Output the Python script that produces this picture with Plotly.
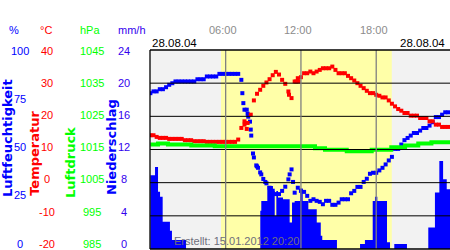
import plotly.graph_objects as go

# ---------------- data ----------------
hours = [i * 0.25 for i in range(96)]  # 15-minute samples, 28.08.04

humidity = [78.3, 79.2, 79.2, 80.3, 80.3, 81.3, 82.5, 83.3, 84.2, 84.2,
            84.2, 84.2, 84.2, 84.2, 84.2, 85.3, 85.3, 85.3, 86.7, 86.7,
            86.7, 86.7, 88.0, 88.0, 88.0, 88.0, 88.0, 88.0, 88.0, 85.0,
            70.0, 68.0, 60.0, 46.0, 41.5, 38.5, 35.2, 33.0, 30.8, 29.3,
            27.6, 27.6, 29.2, 31.3, 35.0, 40.0, 28.3, 30.8, 29.2, 28.7,
            26.7, 24.2, 25.0, 24.2, 23.7, 22.5, 24.2, 24.2, 22.2, 22.2,
            23.3, 25.0, 25.0, 25.0, 28.0, 29.2, 31.2, 31.2, 33.7, 35.3,
            37.8, 38.3, 38.3, 39.5, 40.8, 42.5, 44.5, 46.3, 50.3, 50.3,
            52.5, 54.7, 55.8, 57.0, 58.3, 58.3, 59.5, 60.8, 60.8, 62.0,
            63.7, 66.3, 66.3, 67.5, 68.7, 68.7]
hum_extra_hours = [7.33, 7.41, 7.68, 7.80, 7.94, 8.04, 8.18, 8.44, 8.58, 8.84, 9.16, 11.10, 11.37]
hum_extra = [78.3, 73.3, 70.0, 66.5, 64.0, 57.0, 48.0, 42.0, 40.8, 37.5, 33.7, 37.5, 33.7]

temperature = [14.3, 14.3, 13.8, 13.5, 13.5, 13.5, 13.2, 13.2, 13.2, 13.2,
               13.2, 12.8, 12.8, 12.8, 12.5, 12.5, 12.5, 12.5, 12.3, 12.3,
               12.3, 12.3, 12.3, 12.3, 12.3, 12.3, 12.3, 12.3, 13.0, 16.5,
               18.5, 18.0, 20.5, 24.8, 26.8, 28.0, 29.2, 30.2, 31.2, 32.4,
               33.4, 32.6, 31.0, 29.8, 27.5, 25.5, 30.5, 31.5, 31.8, 33.0,
               33.0, 33.5, 33.0, 33.5, 34.0, 34.5, 34.5, 34.5, 35.0, 34.0,
               33.0, 33.0, 33.0, 32.2, 31.5, 30.8, 30.0, 29.2, 28.5, 27.7,
               27.0, 27.0, 26.5, 26.2, 25.7, 25.7, 24.8, 23.8, 23.0, 22.2,
               21.7, 21.0, 21.0, 20.2, 20.2, 20.2, 19.5, 19.5, 19.5, 18.5,
               18.5, 17.5, 17.5, 16.8, 16.8, 16.8]
temp_extra_hours = [7.50, 7.68, 11.05, 11.62, 11.80]
temp_extra = [17.5, 16.2, 26.5, 30.5, 30.5]

pressure_hours = [0, 0.61, 1.40, 3.26, 5.13, 13.12, 13.92, 15.65, 17.64, 19.2, 20.3, 21.35, 22.4, 23.88]
pressure = [1016.5, 1016.8, 1016.5, 1016.2, 1016.0, 1015.4, 1014.9, 1014.5, 1014.9,
            1015.7, 1016.2, 1016.8, 1017.2, 1017.2]

precip_hours = [0.0, 0.37, 0.61, 0.77, 0.98, 1.56, 1.72, 2.84,
                8.76, 8.84, 9.32, 9.77, 9.91, 10.04, 10.17, 10.57, 11.10, 11.29, 11.50,
                11.93, 12.14, 12.59, 13.26, 13.58, 13.70, 14.87,
                16.71, 17.10, 17.72, 17.90, 18.09, 18.86, 19.10, 19.44, 20.45,
                22.15, 22.68, 23.03, 23.33, 23.62, 23.88]
precip = [8.9, 9.9, 6.9, 6.3, 3.3, 2.2, 1.1, 0.0,
          4.6, 5.8, 7.6, 7.0, 4.0, 7.0, 6.2, 6.0, 3.2, 5.6, 5.8,
          7.3, 5.8, 4.8, 3.2, 1.6, 1.1, 0.0,
          0.6, 1.1, 5.8, 6.3, 5.8, 0.8, 0.0, 0.6, 0.0,
          2.6, 6.8, 10.6, 8.4, 7.2, 7.2]

daylight = [5.63, 19.24]
time_ticks = [6, 12, 18]
time_labels = ["06:00", "12:00", "18:00"]
hum_labels = ["100", "75", "50", "25", "0"]
temp_labels = ["40", "30", "20", "10", "0", "-10", "-20"]
temp_grid = [30, 20, 10, 0, -10]
press_labels = ["1045", "1035", "1025", "1015", "1005", "995", "985"]
rain_labels = ["24", "20", "16", "12", "8", "4", "0"]
date_label = "28.08.04"
created = "Erstellt: 15.01.2012 20:20"

# ---------------- figure ----------------
L, T, W, H = 150, 50, 300, 199
def px(x):
    return (x - L) / W
def py(y):
    return (T + H - y) / H

BLUE = "#0000ff"
RED = "#ff0000"
GREEN = "#00ff00"
FONT = "Liberation Sans, Arial, sans-serif"

fig = go.Figure()
fig.add_trace(go.Scatter(x=precip_hours, y=precip, yaxis="y4", mode="lines",
                         line=dict(width=0, shape="hv", color=BLUE),
                         fill="tozeroy", fillcolor=BLUE, hoverinfo="skip"))
fig.add_trace(go.Scatter(x=pressure_hours, y=pressure, yaxis="y3", mode="lines",
                         line=dict(color=GREEN, width=4, shape="hv")))
fig.add_trace(go.Scatter(x=hours + temp_extra_hours, y=temperature + temp_extra, yaxis="y2",
                         mode="markers",
                         marker=dict(symbol="square", size=4, color=RED, line=dict(width=0))))
fig.add_trace(go.Scatter(x=hours + hum_extra_hours, y=humidity + hum_extra, yaxis="y",
                         mode="markers",
                         marker=dict(symbol="square", size=4, color=BLUE, line=dict(width=0))))

shapes = [dict(type="rect", xref="x", yref="paper", x0=daylight[0], x1=daylight[1], y0=0, y1=1,
               fillcolor="#ffffa8", line=dict(width=0), layer="below")]
for g in temp_grid:
    shapes.append(dict(type="line", xref="paper", yref="y2", x0=0, x1=1, y0=g, y1=g,
                       line=dict(color="black", width=1), layer="above"))
for t in time_ticks:
    shapes.append(dict(type="line", xref="x", yref="paper", x0=t, x1=t, y0=0, y1=1,
                       line=dict(color="#808080", width=1.3), layer="above"))
shapes += [
    dict(type="line", xref="paper", yref="paper", x0=0, x1=1, y0=1, y1=1,
         line=dict(color="black", width=1.3), layer="above"),
    dict(type="line", xref="paper", yref="paper", x0=0, x1=1, y0=0, y1=0,
         line=dict(color="black", width=1.3), layer="above"),
    dict(type="line", xref="paper", yref="paper", x0=0, x1=0, y0=0, y1=1,
         line=dict(color="black", width=1.3), layer="above"),
]

ann = []
def text(x, y, s, color, size=11, xanchor="center", angle=0, bold=False, family=FONT):
    ann.append(dict(x=px(x), y=py(y), xref="paper", yref="paper", text=s, showarrow=False,
                    xanchor=xanchor, yanchor="middle", textangle=angle,
                    font=dict(family=family, size=size, color=color,
                              weight="bold" if bold else "normal")))

# header units
text(13.7, 30, "%", BLUE)
text(46, 30, "°C", RED)
text(89.7, 30, "hPa", GREEN)
text(132, 30, "mm/h", "#3300ee")

# left tick labels
top, bottom = 50.6, 243.7
for k, s in enumerate(hum_labels):
    text(20, top + k * (bottom - top) / (len(hum_labels) - 1), s, BLUE)
for k, s in enumerate(temp_labels):
    text(46.5, top + k * (bottom - top) / (len(temp_labels) - 1), s, RED)
for k, s in enumerate(press_labels):
    text(91.5, top + k * (bottom - top) / (len(press_labels) - 1), s, GREEN)
for k, s in enumerate(rain_labels):
    text(124.3, top + k * (bottom - top) / (len(rain_labels) - 1), s, "#3300ee")

# rotated titles
TF = "DejaVu Sans, Verdana, sans-serif"
text(7.6, 138.5, "Luftfeuchtigkeit", BLUE, size=13, angle=-90, bold=True, family=TF)
text(33.8, 153, "Temperatur", RED, size=13, angle=-90, bold=True, family=TF)
text(70.5, 162.5, "Luftdruck", GREEN, size=13, angle=-90, bold=True, family=TF)
text(111.5, 147.5, "Niederschlag", BLUE, size=13, angle=-90, bold=True, family=TF)

# time labels
for t, s in zip(time_ticks, time_labels):
    ann.append(dict(x=t, y=py(30), xref="x", yref="paper", text=s, showarrow=False,
                    xanchor="center", yanchor="middle", xshift=-2.5,
                    font=dict(family=FONT, size=11, color="#8c8c8c")))

text(150, 43, date_label, "black", size=11.5, xanchor="left")
text(447, 43, date_label, "black", size=11.5, xanchor="right")
text(236.7, 241, created, "#6e6e7c", size=11)

fig.update_layout(
    width=450, height=250,
    margin=dict(l=L, r=0, t=T, b=1, pad=0),
    paper_bgcolor="white", plot_bgcolor="#f2f2f2",
    showlegend=False,
    shapes=shapes, annotations=ann,
    xaxis=dict(range=[-0.03, 23.88], showgrid=False, zeroline=False, showticklabels=False,
               showline=False, ticks=""),
    yaxis=dict(range=[0, 100], visible=False),
    yaxis2=dict(range=[-20, 40], overlaying="y", visible=False),
    yaxis3=dict(range=[985, 1045], overlaying="y", visible=False),
    yaxis4=dict(range=[0, 24], overlaying="y", visible=False),
)

fig.write_html("out.html")
